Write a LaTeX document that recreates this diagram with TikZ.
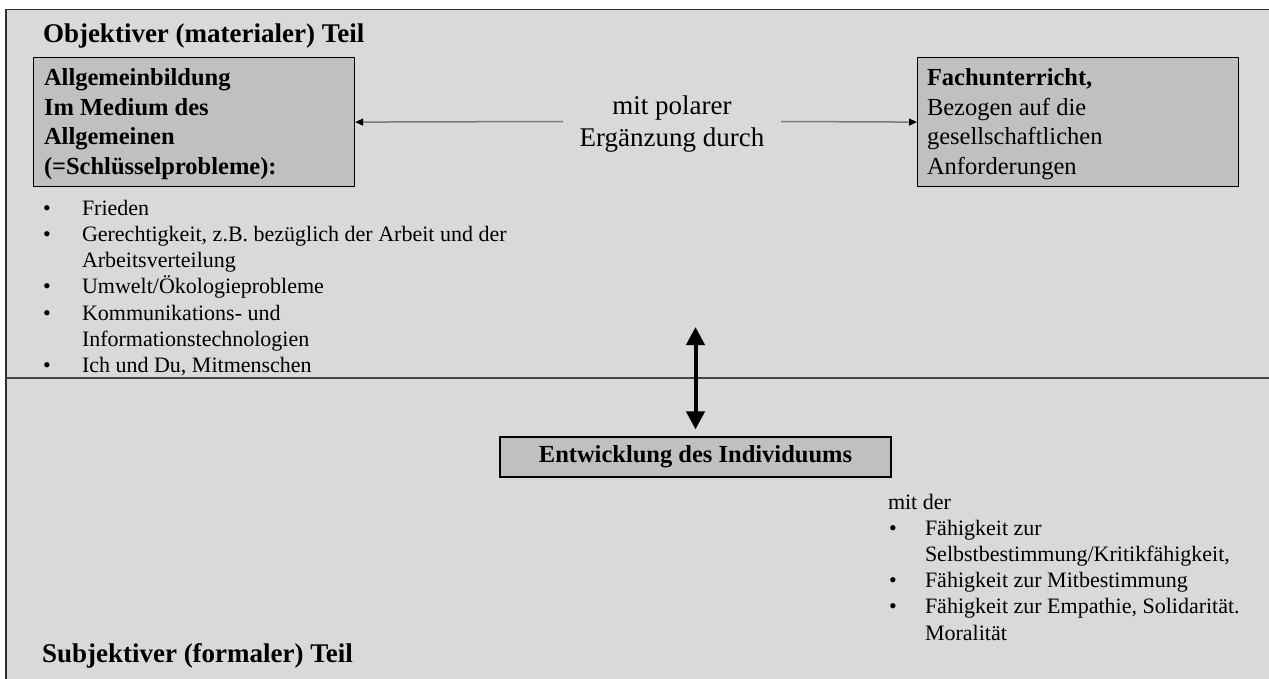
\documentclass[tikz,border=0pt]{standalone}
\usepackage{fontspec}
\setmainfont{Liberation Serif}
\usetikzlibrary{arrows.meta}
\definecolor{bgray}{HTML}{D9D9D9}
\definecolor{boxgray}{HTML}{C0C0C0}
\definecolor{linegray}{HTML}{7A7A7A}
\definecolor{framecol}{HTML}{303030}
\newcommand{\ttlfont}{\fontsize{27}{32}\selectfont\bfseries}
\newcommand{\boxfont}{\fontsize{24.5}{29.5}\selectfont}
\newcommand{\listfont}{\fontsize{22}{26.3}\selectfont}
\newcommand{\polfont}{\fontsize{27}{32}\selectfont}
\tikzset{
  boxnode/.style={draw=black, line width=1.2pt, fill=boxgray, inner sep=0pt},
  txt/.style={anchor=base west, inner sep=0pt, outer sep=0pt},
  ctxt/.style={anchor=base, inner sep=0pt, outer sep=0pt},
  thinarrow/.style={draw=linegray, line width=1.5pt, -{Triangle[width=7pt,length=8pt,color=black]}},
  bigarrow/.style={draw=black, line width=4pt, {Triangle[width=18pt,length=18pt]}-{Triangle[width=18pt,length=18pt]}}
}
\begin{document}
\begin{tikzpicture}[x=1pt,y=-1pt]
\useasboundingbox (0,0) rectangle (1269,679);
\fill[white] (0,0) rectangle (1269,679);
\fill[bgray] (6,9) rectangle (1269,679);
\draw[framecol, line width=1.5pt] (6,679) -- (6,9.5) -- (1269,9.5);
\draw[framecol!90, line width=2pt] (6,378) -- (1269,378);

% titles
\node[txt, font=\ttlfont] (tobj) at (43,43) {Objektiver (materialer) Teil};
\node[txt, font=\ttlfont] (tsub) at (42,662) {Subjektiver (formaler) Teil};

% left box
\node[boxnode, anchor=north west, minimum width=321pt, minimum height=129pt] (lbox) at (33,57) {};
\foreach \t [count=\i from 0] in {Allgemeinbildung, Im Medium des, Allgemeinen, {(=Schlüsselprobleme):}}
  \node[txt, font=\boxfont\bfseries] (la\i) at (44,{86+29.5*\i}) {\t};

% right box
\node[boxnode, anchor=north west, minimum width=321pt, minimum height=129pt] (rbox) at (917,57) {};
\node[txt, font=\boxfont\bfseries] (ra0) at (927,86) {Fachunterricht,};
\node[txt, font=\boxfont] (ra1) at (927,115.5) {Bezogen auf die};
\node[txt, font=\boxfont] (ra2) at (927,145) {gesellschaftlichen};
\node[txt, font=\boxfont] (ra3) at (927,174.5) {Anforderungen};

% middle label and arrows
\node[ctxt, font=\polfont] (pol1) at (672,115) {mit polarer};
\node[ctxt, font=\polfont] (pol2) at (672,147) {Ergänzung durch};
\coordinate (al) at (563,121.5);
\coordinate (ar) at (781,121.5);
\draw[thinarrow] (al) -- (lbox.east);
\draw[thinarrow] (ar) -- (rbox.west);

% left list
\foreach \t/\b [count=\i from 0] in {{Frieden}/1, {Gerechtigkeit, z.B. bezüglich der Arbeit und der}/1, {Arbeitsverteilung}/0, {Umwelt/Ökologieprobleme}/1, {Kommunikations- und}/1, {Informationstechnologien}/0, {Ich und Du, Mitmenschen}/1}{
  \node[txt, font=\listfont] (li\i) at (82,{215+26.3*\i}) {\t};
  \ifnum\b=1 \node[txt, font=\listfont] (lb\i) at (43,{215+26.3*\i}) {•}; \fi
}

% Entwicklung box and double arrow
\node[boxnode, minimum width=391pt, minimum height=40pt, font=\boxfont\bfseries] (entw) at (695.5,457) {Entwicklung des Individuums};
\coordinate (dtop) at (695.5,327);
\draw[bigarrow, shorten >=7pt] (dtop) -- (entw.north);

% right list
\node[txt, font=\listfont] (mitder) at (888,509) {mit der};
\foreach \t/\b [count=\i from 1] in {{Fähigkeit zur}/1, {Selbstbestimmung/Kritikfähigkeit,}/0, {Fähigkeit zur Mitbestimmung}/1, {Fähigkeit zur Empathie, Solidarität.}/1, {Moralität}/0}{
  \node[txt, font=\listfont] (ri\i) at (925,{509+26.2*\i}) {\t};
  \ifnum\b=1 \node[txt, font=\listfont] (rb\i) at (889,{509+26.2*\i}) {•}; \fi
}
\end{tikzpicture}
\end{document}
